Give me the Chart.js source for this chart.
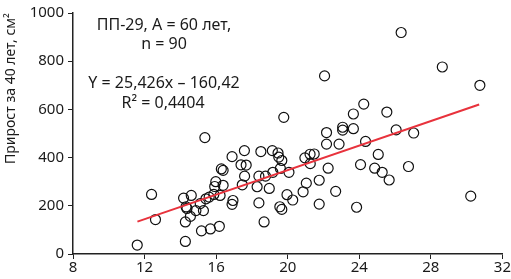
<!DOCTYPE html>
<html>
<head>
<meta charset="utf-8">
<script src="https://cdn.jsdelivr.net/npm/chart.js@4"></script>
<style>
  body { margin: 0; background: #fff; }
  #wrap { width: 511px; height: 279px; }
</style>
</head>
<body>
<div id="wrap"><canvas id="chart" width="511" height="279"></canvas></div>
<script>
// diameter at 60 years (x) vs 40-year growth (y)
var diamX = [11.59, 12.39, 12.61, 14.18, 14.61, 14.37, 14.28, 14.56, 14.87, 15.29,
             14.28, 15.18, 15.68, 16.18, 15.11, 15.43, 15.92, 15.98, 16.39, 16.22,
             16.29, 16.39, 16.94, 16.89, 16.89, 17.58, 17.39, 17.68, 17.59, 17.46,
             15.37, 18.5, 19.14, 19.46, 19.5, 19.67, 19.59, 19.17, 18.39, 18.76,
             20.07, 18.29, 18.97, 18.39, 18.68, 19.56, 19.67, 19.96, 20.28, 20.86,
             21.04, 20.96, 21.25, 21.48, 21.26, 21.76, 21.76, 22.26, 22.17, 22.87,
             22.68, 23.85, 24.07, 24.35, 25.06, 24.86, 25.28, 25.67, 26.75, 30.23,
             27.04, 26.06, 26.34, 28.64, 30.74, 22.06, 19.78, 24.25, 23.67, 25.54,
             22.17, 23.07, 23.07, 23.67, 15.61, 15.87, 14.32];
var growthY = [37, 247, 143, 232, 243, 189, 133, 156, 180, 180,
               52, 96, 104, 115, 209, 229, 280, 300, 285, 243,
               353, 347, 222, 206, 404, 429, 370, 369, 323, 287,
               483, 425, 429, 419, 402, 388, 355, 339, 323, 323,
               339, 279, 272, 212, 133, 196, 185, 246, 224, 258,
               294, 399, 414, 415, 375, 306, 207, 356, 456, 456,
               260, 194, 371, 467, 413, 356, 339, 307, 363, 240,
               502, 515, 919, 776, 700, 739, 567, 622, 581, 589,
               504, 526, 514, 520, 236, 247, 196];

// trend line ends as drawn
var trendX = [11.6, 30.7];
var trendY = [134.5, 620.2];

var xTicks = [8, 12, 16, 20, 24, 28, 32];
var yTicks = [0, 200, 400, 600, 800, 1000];

var notes = ['ПП-29, А = 60 лет,', 'n = 90', 'Y = 25,426x – 160,42', 'R² = 0,4404'];

var FONT = '"Noto Sans", sans-serif';

var points = diamX.map(function (x, i) { return { x: x, y: growthY[i] }; });
var trend = trendX.map(function (x, i) { return { x: x, y: trendY[i] }; });

var notesPlugin = {
  id: 'notes',
  afterDraw: function (chart) {
    var ctx = chart.ctx;
    ctx.save();
    ctx.fillStyle = '#1a1a1a';
    ctx.font = '16px ' + FONT;
    ctx.textAlign = 'center';
    ctx.textBaseline = 'middle';
    ctx.fillText(notes[0], 164, 25);
    ctx.fillText(notes[1], 164, 44);
    ctx.fillText(notes[2], 164, 83);
    ctx.fillText(notes[3], 163, 103);
    ctx.restore();
  }
};

new Chart(document.getElementById('chart'), {
  type: 'scatter',
  data: {
    datasets: [{
      type: 'line',
      data: trend,
      borderColor: '#e8323c',
      borderWidth: 2,
      pointRadius: 0,
      fill: false,
      order: 0
    }, {
      data: points,
      pointRadius: 5,
      pointBorderWidth: 1.2,
      pointBorderColor: '#111',
      pointBackgroundColor: 'rgba(255,255,255,0)',
      order: 1
    }]
  },
  options: {
    responsive: false,
    animation: false,
    layout: { padding: { top: 4, right: 6, left: 0, bottom: 0 } },
    plugins: { legend: { display: false }, tooltip: { enabled: false } },
    scales: {
      x: {
        type: 'linear',
        min: 8, max: 32,
        afterBuildTicks: function (ax) { ax.ticks = xTicks.map(function (v) { return { value: v }; }); },
        afterFit: function (ax) { ax.height = 25; },
        border: { color: '#222', width: 1.5 },
        grid: { drawOnChartArea: false, color: '#222', tickLength: 5 },
        ticks: { color: '#1a1a1a', font: { family: FONT, size: 15 }, padding: 0, maxRotation: 0,
                 callback: function (v) { return String(v); } }
      },
      y: {
        min: 0, max: 1000,
        afterBuildTicks: function (ax) { ax.ticks = yTicks.map(function (v) { return { value: v }; }); },
        afterFit: function (ax) { ax.width = 73; },
        border: { color: '#222', width: 1.5 },
        grid: { drawOnChartArea: false, color: '#222', tickLength: 5 },
        ticks: { color: '#1a1a1a', font: { family: FONT, size: 15 }, padding: 4,
                 callback: function (v) { return String(v); } },
        title: { display: true, align: 'end', text: 'Прирост за 40 лет, см²', color: '#1a1a1a',
                 font: { family: FONT, size: 14 }, padding: { top: 3, bottom: 0 } }
      }
    }
  },
  plugins: [notesPlugin]
});
</script>
</body>
</html>
